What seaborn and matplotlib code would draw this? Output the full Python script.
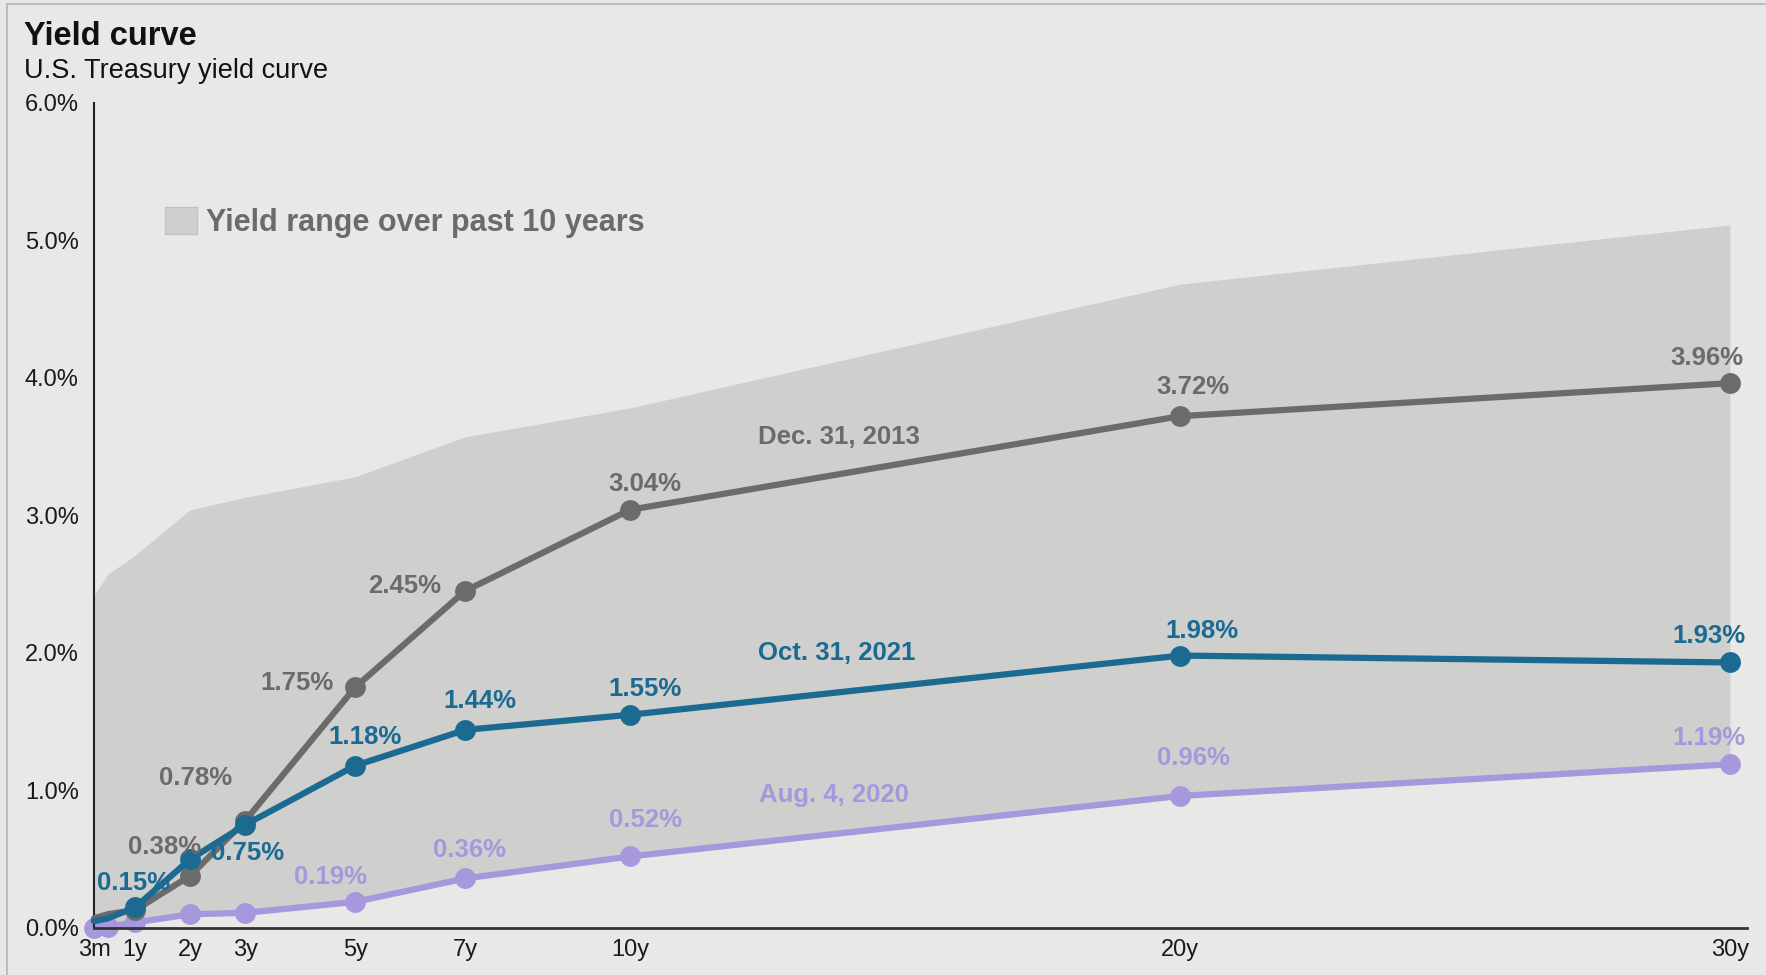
import matplotlib
matplotlib.use("Agg")
import matplotlib.pyplot as plt
import pandas as pd
import seaborn as sns
from matplotlib.lines import Line2D

# Treasury maturities in years and the ticks shown on the axis
maturities = [0.25, 0.5, 1, 2, 3, 5, 7, 10, 20, 30]
tick_maturities = [0.25, 1, 2, 3, 5, 7, 10, 20, 30]
tick_labels = ["3m", "1y", "2y", "3y", "5y", "7y", "10y", "20y", "30y"]

# Yields (%) per curve
dec_2013 = [0.07, 0.10, 0.13, 0.38, 0.78, 1.75, 2.45, 3.04, 3.72, 3.96]
oct_2021 = [0.05, 0.07, 0.15, 0.50, 0.75, 1.18, 1.44, 1.55, 1.98, 1.93]
aug_2020 = [0.00, 0.01, 0.04, 0.10, 0.11, 0.19, 0.36, 0.52, 0.96, 1.19]

# Ten-year yield range
range_high = [2.42, 2.57, 2.71, 3.04, 3.13, 3.28, 3.57, 3.78, 4.68, 5.11]
range_low = [0.00, 0.01, 0.04, 0.10, 0.11, 0.19, 0.36, 0.52, 0.96, 1.19]

curve_names = ["Dec. 31, 2013", "Oct. 31, 2021", "Aug. 4, 2020"]

BG = "#e8e8e6"
SHADE = "#cfcfcd"
GRAY = "#6b6b6b"
TEAL = "#1b6a92"
PURPLE = "#a797dc"

sns.set_theme(style="white")
plt.rcParams["font.family"] = ["Liberation Sans", "DejaVu Sans"]
plt.rcParams["axes.facecolor"] = BG
plt.rcParams["figure.facecolor"] = BG

fig = plt.figure(figsize=(17.66, 9.75), dpi=100)
ax = fig.add_axes([94 / 1766, 1 - 928 / 975, (1747 - 94) / 1766, (928 - 102.5) / 975])

df = pd.DataFrame({
    "maturity": maturities * 3,
    "yield": dec_2013 + oct_2021 + aug_2020,
    "curve": sum([[n] * len(maturities) for n in curve_names], []),
})

ax.fill_between(maturities, range_low, range_high, color=SHADE, linewidth=0,
                label="Yield range over past 10 years", zorder=1)

# colour, z-order, first point that gets a marker
styles = {
    "Aug. 4, 2020": (PURPLE, 2, 0),
    "Dec. 31, 2013": (GRAY, 3, 2),
    "Oct. 31, 2021": (TEAL, 4, 2),
}
for name in ["Aug. 4, 2020", "Dec. 31, 2013", "Oct. 31, 2021"]:
    color, z, first = styles[name]
    sub = df[df["curve"] == name]
    sns.lineplot(data=sub, x="maturity", y="yield", ax=ax, color=color,
                 linewidth=4.5, marker="o", markersize=15, markeredgewidth=0,
                 markevery=list(range(first, len(maturities))),
                 zorder=z, clip_on=False, legend=False)

# Value labels: maturity -> offset (pixels) of the label centre from the point
label_offsets = {
    "Dec. 31, 2013": {2: (-26, 29), 3: (-50, 43), 5: (-58, 4), 7: (-61, 5),
                      10: (15, 26), 20: (13, 29), 30: (-23, 25)},
    "Oct. 31, 2021": {1: (-2, 24), 3: (2, -28), 5: (10, 29), 7: (15, 29),
                      10: (15, 26), 20: (22, 25), 30: (-21, 26)},
    "Aug. 4, 2020": {5: (-25, 25), 7: (4, 28), 10: (15, 36), 20: (13, 38),
                     30: (-21, 26)},
}
series = {"Dec. 31, 2013": dec_2013, "Oct. 31, 2021": oct_2021, "Aug. 4, 2020": aug_2020}
for name, offs in label_offsets.items():
    color = styles[name][0]
    vals = series[name]
    for m, (dx, dy) in offs.items():
        v = vals[maturities.index(m)]
        ax.annotate(f"{v:.2f}%", (m, v), xytext=(dx, dy), textcoords="offset pixels",
                    ha="center", va="center", fontsize=18.5, fontweight="bold",
                    color=color, zorder=6, annotation_clip=False)

# Curve names
name_pos = {"Dec. 31, 2013": (13.8, 3.57), "Oct. 31, 2021": (13.75, 2.0),
            "Aug. 4, 2020": (13.7, 0.97)}
for name, (x, y) in name_pos.items():
    ax.text(x, y, name, ha="center", va="center", fontsize=18.5,
            fontweight="bold", color=styles[name][0], zorder=6)

ax.set_xlim(0.25, 30.31)
ax.set_ylim(0, 6)
ax.set_xticks(tick_maturities)
ax.set_xticklabels(tick_labels)
ax.set_yticks([0, 1, 2, 3, 4, 5, 6])
ax.set_yticklabels([f"{t:.1f}%" for t in range(7)])
ax.set_xlabel("")
ax.set_ylabel("")
ax.tick_params(axis="both", labelsize=17, colors="#1a1a1a", length=5, width=1.2,
               direction="out")
ax.tick_params(axis="y", pad=6)
ax.tick_params(axis="x", pad=3)
for s in ["top", "right"]:
    ax.spines[s].set_visible(False)
ax.spines["left"].set_color("#222222")
ax.spines["left"].set_linewidth(1.5)
ax.spines["bottom"].set_color("#333333")
ax.spines["bottom"].set_linewidth(2)

leg = ax.legend(loc="upper left", bbox_to_anchor=(165 / 1766, 1 - 207 / 975),
                bbox_transform=fig.transFigure, frameon=False, borderpad=0,
                borderaxespad=0, handlelength=1.05, handleheight=1.0,
                handletextpad=0.3, prop={"size": 22, "weight": "bold"})
for t in leg.get_texts():
    t.set_color(GRAY)
for h in leg.legend_handles:
    h.set_edgecolor("#c2c2c0")
    h.set_linewidth(1)

fig.text(24 / 1766, 1 - 45 / 975, "Yield curve", fontsize=23.5, fontweight="bold",
         color="#111111", va="baseline", ha="left")
fig.text(24 / 1766, 1 - 78 / 975, "U.S. Treasury yield curve", fontsize=19.5,
         color="#111111", va="baseline", ha="left")

# Thin frame along the top and left edges
fig.add_artist(Line2D([7 / 1766, 1.0], [1 - 4 / 975, 1 - 4 / 975],
                      transform=fig.transFigure, color="#b4b4b4", linewidth=1.2))
fig.add_artist(Line2D([7 / 1766, 7 / 1766], [0, 1 - 4 / 975],
                      transform=fig.transFigure, color="#b4b4b4", linewidth=1.2))

fig.savefig("out.png", dpi=100, facecolor=BG)
